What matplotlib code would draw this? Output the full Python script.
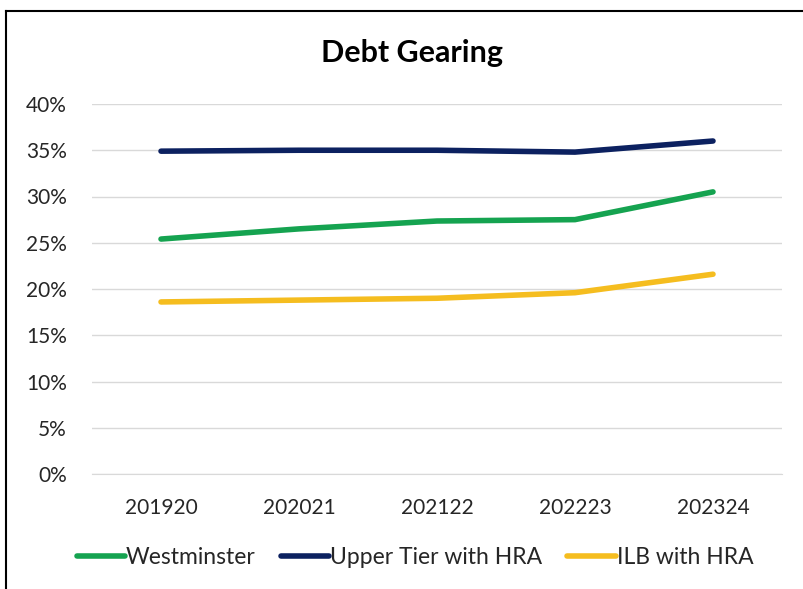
#!/usr/bin/env python3
"""Debt gearing line chart, Excel-style."""

import matplotlib
matplotlib.use("Agg")
import matplotlib.pyplot as plt
from matplotlib.lines import Line2D
from matplotlib.ticker import FuncFormatter

years = ["201920", "202021", "202122", "202223", "202324"]
westminster = [25.4, 26.5, 27.35, 27.5, 30.5]
upper_tier = [34.9, 35.0, 35.0, 34.8, 36.0]
ilb = [18.6, 18.8, 19.0, 19.6, 21.6]

series = [
    ("Westminster", westminster, "#15a350"),
    ("Upper Tier with HRA", upper_tier, "#0c2160"),
    ("ILB with HRA", ilb, "#f5bd1f"),
]

plt.rcParams["font.family"] = ["Lato", "DejaVu Sans"]

fig = plt.figure(figsize=(8.04, 5.89), dpi=100)
ax = fig.add_axes([92 / 804, 1 - 474 / 589, 690 / 804, 370 / 589])

xs = list(range(len(years)))
for name, values, colour in series:
    ax.plot(xs, values, color=colour, linewidth=4, solid_capstyle="round", label=name)

ax.set_xlim(-0.5, len(years) - 0.5)
ax.set_ylim(0, 40)
ax.set_yticks(range(0, 41, 5))
ax.yaxis.set_major_formatter(FuncFormatter(lambda v, _: f"{v:.0f}%"))
ax.set_xticks(xs)
ax.set_xticklabels(years)
ax.grid(axis="y", color="#d9d9d9", linewidth=1)
ax.set_axisbelow(True)
for side in ("top", "right", "left"):
    ax.spines[side].set_visible(False)
ax.spines["bottom"].set_color("#d9d9d9")
ax.tick_params(axis="both", length=0, labelsize=15, colors="#262626")
ax.tick_params(axis="x", pad=17)
ax.tick_params(axis="y", pad=18)

fig.text(412 / 804, 1 - 53 / 589, "Debt Gearing", ha="center", va="center",
         fontsize=22, fontweight="bold", color="black")

handles = [Line2D([0], [0], color=c, linewidth=4, solid_capstyle="round") for _, _, c in series]
fig.legend(handles, [s[0] for s in series], loc="center", bbox_to_anchor=(415 / 804, 1 - 558 / 589),
           ncol=3, frameon=False, fontsize=16.5, handlelength=2.1, handletextpad=0.05,
           columnspacing=1.1, labelcolor="#262626")

# chart border, only left and top edges visible in the crop
fig.add_artist(Line2D([6 / 804, 6 / 804], [0, 1 - 11 / 589], color="black", linewidth=1.5,
                      transform=fig.transFigure))
fig.add_artist(Line2D([6 / 804, 1], [1 - 11 / 589, 1 - 11 / 589], color="black", linewidth=1.5,
                      transform=fig.transFigure))

fig.savefig("out.png", dpi=100)
